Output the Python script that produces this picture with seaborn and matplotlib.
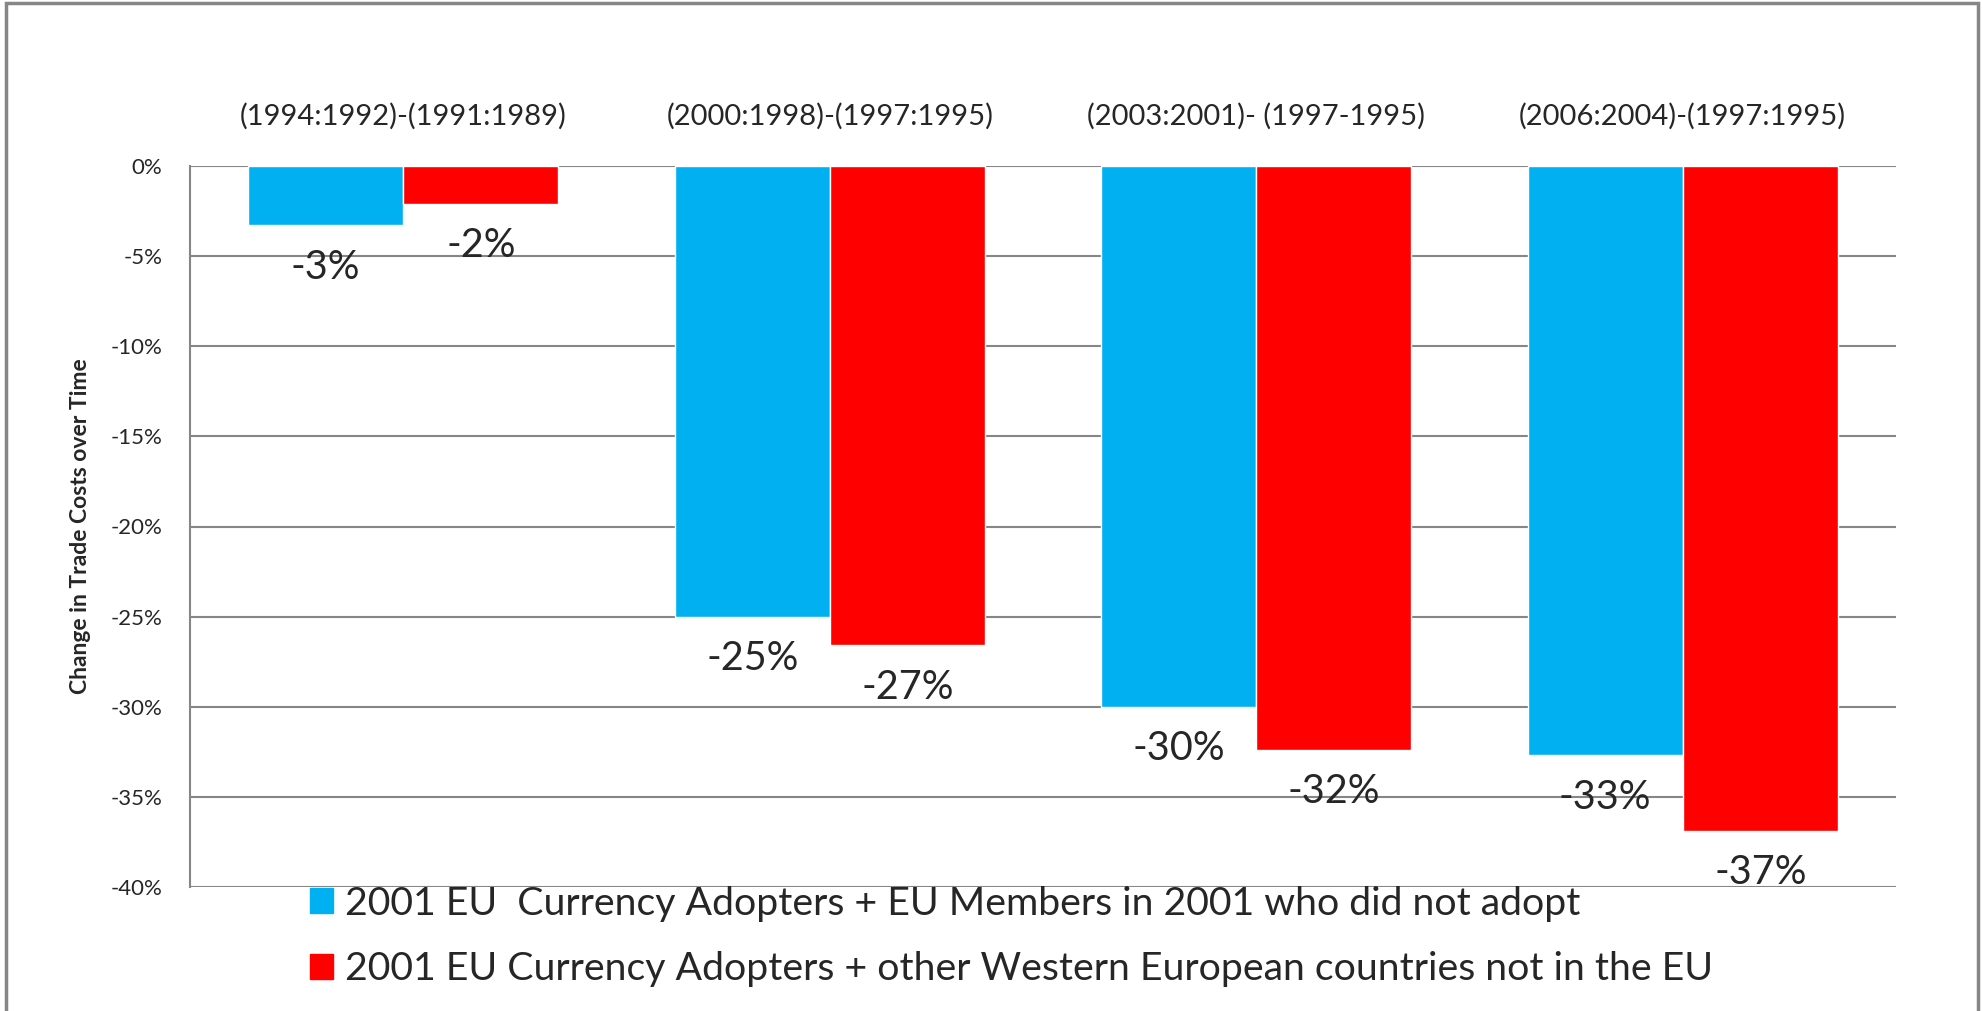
import matplotlib
matplotlib.use('Agg')
import matplotlib.pyplot as plt
import matplotlib.patches as mpatches
import pandas as pd
import seaborn as sns

periods = ['(1994:1992)-(1991:1989)', '(2000:1998)-(1997:1995)',
           '(2003:2001)- (1997-1995)', '(2006:2004)-(1997:1995)']
series_names = ['2001 EU  Currency Adopters + EU Members in 2001 who did not adopt',
                '2001 EU Currency Adopters + other Western European countries not in the EU']
eu_members = [-3.3, -25.0, -30.0, -32.7]
western_europe = [-2.1, -26.6, -32.4, -36.9]
ytick_values = [0, -5, -10, -15, -20, -25, -30, -35, -40]
colors = ['#00B0F0', '#FF0000']

sns.set_style('white')
plt.rcParams['font.family'] = ['Lato', 'DejaVu Sans']

df = pd.DataFrame({
    'period': periods * 2,
    'change': eu_members + western_europe,
    'group': [series_names[0]] * 4 + [series_names[1]] * 4,
})

fig = plt.figure(figsize=(19.82, 10.11), dpi=100)
ax = fig.add_axes([190 / 1982, 1 - 887 / 1011, (1896 - 190) / 1982, (887 - 166) / 1011])

sns.barplot(data=df, x='period', y='change', hue='group', hue_order=series_names,
            palette=colors, width=0.727, saturation=1, legend=False, ax=ax, zorder=3)

ax.set_ylim(-40, 0)
ax.set_yticks(ytick_values)
ax.set_yticklabels([f'{v}%' for v in ytick_values], fontsize=16)
ax.tick_params(axis='y', length=0, pad=20)
ax.yaxis.grid(True, color='#868686', lw=1.5, zorder=0)
ax.set_axisbelow(True)

ax.xaxis.set_ticks_position('top')
ax.tick_params(axis='x', length=0, pad=26, labelsize=21)
ax.set_xlabel('')
ax.set_ylabel('Change in Trade Costs over Time', fontsize=16.5, fontweight='bold', labelpad=14)

for side in ['top', 'right', 'bottom']:
    ax.spines[side].set_visible(False)
ax.spines['left'].set_color('#868686')
ax.spines['left'].set_linewidth(1.5)

values = eu_members + western_europe
for patch, v in zip(ax.patches, values):
    cx = patch.get_x() + patch.get_width() / 2
    ax.annotate(f'{v:.0f}%', xy=(cx, v), xytext=(0, -30), textcoords='offset points',
                ha='center', va='center', fontsize=28.5, zorder=5)

handles = [mpatches.Patch(color=c) for c in colors]
fig.legend(handles, series_names, loc='upper left', bbox_to_anchor=(294 / 1982, 1 - 870 / 1011),
           frameon=False, fontsize=28.3, handlelength=0.6, handleheight=0.6,
           handletextpad=0.3, labelspacing=0.75, borderaxespad=0)

fig.add_artist(mpatches.Rectangle((6 / 1982, -0.05), (1978 - 6) / 1982, 1.05 - 3 / 1011,
                                  transform=fig.transFigure, fill=False,
                                  edgecolor='#868686', lw=2.5))

fig.savefig('out.png', dpi=100)
